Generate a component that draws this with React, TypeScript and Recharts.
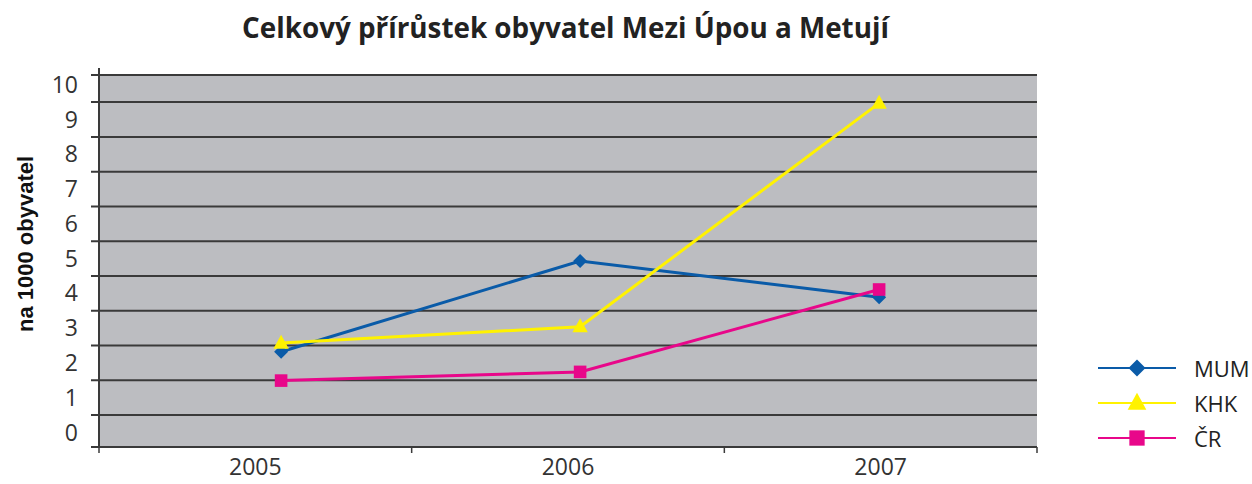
import React from 'react';
import { LineChart, Line, XAxis, YAxis, CartesianGrid, ReferenceLine, Legend } from 'recharts';

const years = [2005, 2006, 2007];
const mum = [2.32, 4.93, 3.89];
const khk = [2.57, 3.04, 9.47];
const cr = [1.49, 1.74, 4.11];
const yTicks = [0, 1, 2, 3, 4, 5, 6, 7, 8, 9, 10];
const Y_MIN = -0.42;
const Y_MAX = 10.28;
const gridValues = [Y_MIN, 0.5, 1.5, 2.5, 3.5, 4.5, 5.5, 6.5, 7.5, 8.5, 9.5, Y_MAX];
// label axis: categories centred in equal bands
const LAB_MIN = 2004.5;
const LAB_MAX = 2007.5;
const bandEdges = [2004.5, 2005.5, 2006.5, 2007.5];
// points axis (markers sit slightly right of the band centres in the reference)
const X_MIN = 2004.391;
const X_MAX = 2007.528;

const TITLE = 'Celkový přírůstek obyvatel Mezi Úpou a Metují';
const Y_LABEL = 'na 1000 obyvatel';

const series = [
  { key: 'MUM', name: 'MUM', color: '#0A5BA8', shape: 'diamond' },
  { key: 'KHK', name: 'KHK', color: '#FFF200', shape: 'triangle' },
  { key: 'CR', name: 'ČR', color: '#E8078A', shape: 'square' },
];

const data = years.map((y, i) => ({ year: y, MUM: mum[i], KHK: khk[i], CR: cr[i] }));

const GRID = '#3a3a3a';
const TXT = '#333333';

function Marker({ shape, cx, cy, color, size }: any) {
  if (cx == null || cy == null) return null;
  if (shape === 'diamond') {
    const s = size / 2;
    return <polygon points={`${cx},${cy - s} ${cx + s},${cy} ${cx},${cy + s} ${cx - s},${cy}`} fill={color} />;
  }
  if (shape === 'triangle') {
    const w = size * 1.1;
    const h = size;
    return <polygon points={`${cx},${cy - h * 0.6} ${cx + w / 2},${cy + h * 0.4} ${cx - w / 2},${cy + h * 0.4}`} fill={color} />;
  }
  const s = size * 0.9;
  return <rect x={cx - s / 2} y={cy - s / 2} width={s} height={s} fill={color} />;
}

const GridShape = (props: any) => {
  const { x1, y1, x2, y2, isTop } = props;
  const left = Math.min(x1, x2);
  const right = Math.max(x1, x2);
  return (
    <g>
      <line x1={left - 8} y1={y1} x2={right} y2={y2} stroke={GRID} strokeWidth={2} />
      {isTop ? <line x1={left} y1={y1 - 7} x2={left} y2={y1} stroke={GRID} strokeWidth={2} /> : null}
    </g>
  );
};

const BandTick = (props: any) => {
  const { x1, y1, y2 } = props;
  const b = Math.max(y1, y2);
  return <line x1={x1} y1={b} x2={x1} y2={b + 6} stroke={GRID} strokeWidth={1.5} />;
};

const LegendContent = () => (
  <svg width={170} height={110}>
    {series.map((s, i) => {
      const y = 18 + i * 35;
      return (
        <g key={s.key}>
          <line x1={8} y1={y} x2={86} y2={y} stroke={s.color} strokeWidth={2} />
          <Marker shape={s.shape} cx={47} cy={y} color={s.color} size={17} />
          <text x={104} y={y} dominantBaseline="central" fontFamily="'Open Sans', sans-serif" fontSize={22} fill="#222">
            {s.name}
          </text>
        </g>
      );
    })}
  </svg>
);

const YLabel = (props: any) => {
  const vb = props.viewBox || {};
  const cx = (vb.x || 0) + 25;
  const cy = (vb.y || 0) + (vb.height || 0) / 2 - 17;
  return (
    <text
      x={cx}
      y={cy}
      transform={`rotate(-90 ${cx} ${cy})`}
      textAnchor="middle"
      dominantBaseline="central"
      fontFamily="'Liberation Sans', Arial, sans-serif"
      fontWeight="bold"
      fontSize={22}
      fill="#111"
    >
      {Y_LABEL}
    </text>
  );
};

export default function App() {
  return (
    <div style={{ position: 'absolute', left: 0, top: 0, width: 1252, height: 484, background: '#fff' }}>
      <div
        style={{
          position: 'absolute',
          left: 0,
          top: 8,
          width: 1131,
          textAlign: 'center',
          fontFamily: "'Open Sans', sans-serif",
          fontWeight: 700,
          fontSize: 27.8,
          color: '#222',
          zIndex: 2,
        }}
      >
        {TITLE}
      </div>
      <LineChart width={1252} height={484} data={data} margin={{ top: 75, right: 215, bottom: 0, left: 0 }}>
        <CartesianGrid fill="#BCBDC1" horizontal={false} vertical={false} stroke="none" xAxisId="lab" />
        <XAxis
          xAxisId="lab"
          dataKey="year"
          type="number"
          domain={[LAB_MIN, LAB_MAX]}
          allowDataOverflow
          ticks={years}
          interval={0}
          tickLine={false}
          axisLine={{ stroke: GRID, strokeWidth: 2 }}
          tick={{ fontSize: 23, fill: TXT, fontFamily: "'Open Sans', sans-serif" }}
          tickMargin={6}
          height={37}
        />
        <XAxis xAxisId="num" dataKey="year" type="number" domain={[X_MIN, X_MAX]} allowDataOverflow hide height={0} />
        <YAxis
          domain={[Y_MIN, Y_MAX]}
          allowDataOverflow
          ticks={yTicks}
          interval={0}
          tickLine={false}
          axisLine={{ stroke: GRID, strokeWidth: 2 }}
          tick={{ fontSize: 23, fill: TXT, fontFamily: "'Open Sans', sans-serif" }}
          tickMargin={15}
          width={99}
          label={{ content: YLabel }}
        />
        {gridValues.map((v, i) => (
          <ReferenceLine
            key={'g' + i}
            y={v}
            xAxisId="lab"
            ifOverflow="visible"
            shape={(p: any) => <GridShape {...p} isTop={i === gridValues.length - 1} />}
          />
        ))}
        {bandEdges.map((e) => (
          <ReferenceLine key={'b' + e} x={e} xAxisId="lab" ifOverflow="visible" shape={(p: any) => <BandTick {...p} />} />
        ))}
        {series.map((s) => (
          <Line
            key={s.key}
            xAxisId="num"
            dataKey={s.key}
            name={s.name}
            stroke={s.color}
            strokeWidth={3}
            isAnimationActive={false}
            dot={(p: any) => <Marker key={s.key + p.index} shape={s.shape} cx={p.cx} cy={p.cy} color={s.color} size={14} />}
            activeDot={false}
          />
        ))}
        <Legend
          layout="vertical"
          align="center"
          verticalAlign="middle"
          content={<LegendContent />}
          wrapperStyle={{ position: 'absolute', left: 1090, top: 350, width: 170, height: 110 }}
        />
      </LineChart>
    </div>
  );
}
